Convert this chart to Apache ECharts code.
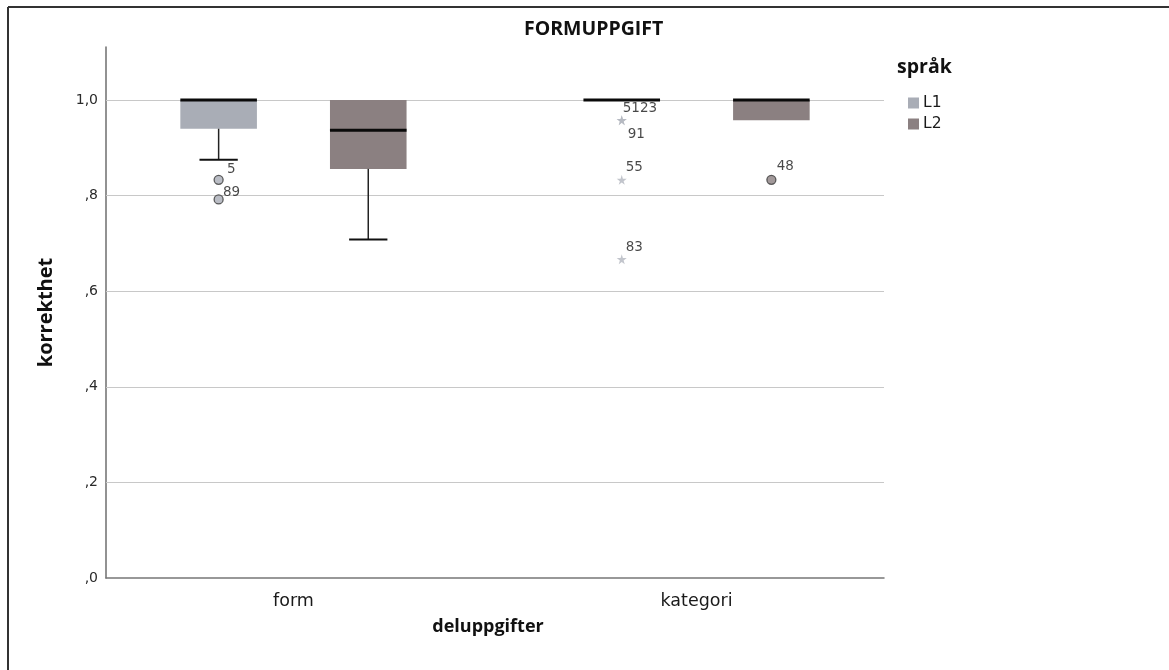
<!DOCTYPE html>
<html>
<head>
<meta charset="utf-8">
<script src="https://cdn.jsdelivr.net/npm/echarts@6/dist/echarts.min.js"></script>
<style>
html,body{margin:0;padding:0;background:#fff;}
#chart{width:1169px;height:670px;}
</style>
</head>
<body>
<div id="chart"></div>
<script>
// ---- data ----
const categories = ['form', 'kategori'];
const groups = ['L1', 'L2'];
// box stats per category: [lower whisker, Q1, median, Q3, upper whisker]
const boxL1 = [[0.875, 0.94, 1.0, 1.0, 1.0], [1.0, 1.0, 1.0, 1.0, 1.0]];
const boxL2 = [[0.708, 0.856, 0.937, 1.0, 1.0], [0.958, 0.958, 1.0, 1.0, 1.0]];
// outliers (circles): [categoryIndex, value, case label]
const outliersL1 = [[0, 0.833, '5'], [0, 0.792, '89']];
const outliersL2 = [[1, 0.833, '48']];
// extreme values (stars)
const extremesL1 = [[1, 0.958, '5123'], [1, 0.958, '91'], [1, 0.833, '55'], [1, 0.667, '83']];
const extremesL2 = [];
const yTicks = [0, 0.2, 0.4, 0.6, 0.8, 1.0];
const yTickLabels = [',0', ',2', ',4', ',6', ',8', '1,0'];

// ---- styles ----
const colors = {L1: '#a9adb6', L2: '#8b8081'};
const starColor = '#b3b7bf';
const groupOffset = {L1: -0.1856, L2: 0.1856};
const boxWidth = 0.19;
const labelDefault = [4, -12];
const labelOverride = {'5': [9, -10], '89': [5, -6], '91': [6, 14], '5123': [1, -12], '48': [6, -13]};
const STAR = 'path://M50,0 L61,35 L98,35 L68,57 L79,91 L50,70 L21,91 L32,57 L2,35 L39,35 Z';
const FONT = 'DejaVu Sans';
const BOLD = 'Open Sans';

function boxSeries(name, stats) {
  const color = colors[name];
  return {
    type: 'custom', name: name, z: 3,
    itemStyle: {color: color},
    encode: {x: 0, y: [1, 2, 3, 4, 5]},
    data: stats.map((d, i) => [i].concat(d)),
    renderItem: function (params, api) {
      const x = api.value(0) + groupOffset[name];
      const pMin = api.coord([x, api.value(1)]);
      const pQ1 = api.coord([x, api.value(2)]);
      const pMed = api.coord([x, api.value(3)]);
      const pQ3 = api.coord([x, api.value(4)]);
      const pMax = api.coord([x, api.value(5)]);
      const hw = api.size([boxWidth, 0])[0] / 2;
      const cx = pMed[0];
      const ch = [];
      if (pQ1[1] - pQ3[1] > 0.5) {
        ch.push({type: 'rect', shape: {x: cx - hw, y: pQ3[1], width: 2 * hw, height: pQ1[1] - pQ3[1]}, style: {fill: color}});
      }
      if (pMin[1] - pQ1[1] > 0.5) {
        ch.push({type: 'line', shape: {x1: cx, y1: pQ1[1], x2: cx, y2: pMin[1]}, style: {stroke: '#222', lineWidth: 1.5}});
        ch.push({type: 'line', shape: {x1: cx - hw / 2, y1: pMin[1], x2: cx + hw / 2, y2: pMin[1]}, style: {stroke: '#111', lineWidth: 2}});
      }
      if (pQ3[1] - pMax[1] > 0.5) {
        ch.push({type: 'line', shape: {x1: cx, y1: pQ3[1], x2: cx, y2: pMax[1]}, style: {stroke: '#222', lineWidth: 1.5}});
        ch.push({type: 'line', shape: {x1: cx - hw / 2, y1: pMax[1], x2: cx + hw / 2, y2: pMax[1]}, style: {stroke: '#111', lineWidth: 2}});
      }
      ch.push({type: 'line', shape: {x1: cx - hw, y1: pMed[1], x2: cx + hw, y2: pMed[1]}, style: {stroke: '#0a0a0a', lineWidth: 3}});
      return {type: 'group', children: ch};
    }
  };
}

function pointSeries(name, pts, isStar) {
  const size = isStar ? 10 : 9;
  return {
    type: 'scatter', name: name, z: 4,
    symbol: isStar ? STAR : 'circle',
    symbolSize: size,
    itemStyle: isStar ? {color: starColor} : {color: colors[name], borderColor: '#3a3a3a', borderWidth: 1.3},
    data: pts.map(p => {
      const off = labelOverride[p[2]] || labelDefault;
      return {
        value: [p[0] + groupOffset[name], p[1], p[2]],
        label: {position: [size / 2 + off[0], size / 2 + off[1]]}
      };
    }),
    label: {
      show: true, formatter: p => p.value[2], align: 'left', verticalAlign: 'middle',
      fontFamily: FONT, fontSize: 13.5, color: '#1a1a1a'
    }
  };
}

const chart = echarts.init(document.getElementById('chart'), null, {renderer: 'canvas'});
chart.setOption({
  animation: false,
  backgroundColor: '#fff',
  title: [
    {text: 'FORMUPPGIFT', left: 519, top: 14, textStyle: {fontFamily: BOLD, fontWeight: 'bold', fontSize: 19.5, color: '#111'}},
    {text: 'språk', left: 892, top: 52, textStyle: {fontFamily: BOLD, fontWeight: 'bold', fontSize: 19.5, color: '#111'}}
  ],
  legend: {
    orient: 'vertical', left: 903, top: 90, icon: 'rect', itemWidth: 11, itemHeight: 11, itemGap: 5,
    textStyle: {fontFamily: FONT, fontSize: 15.5, color: '#1a1a1a', padding: [0, 0, 0, -1]},
    data: groups.map(g => ({name: g, itemStyle: {color: colors[g]}}))
  },
  graphic: [
    {type: 'line', shape: {x1: 8, y1: 7, x2: 1169, y2: 7}, style: {stroke: '#333', lineWidth: 2}},
    {type: 'line', shape: {x1: 8, y1: 7, x2: 8, y2: 670}, style: {stroke: '#333', lineWidth: 2}}
  ],
  grid: {left: 106, right: 285, top: 47, bottom: 92},
  xAxis: {
    type: 'value', min: -0.465, max: 1.465,
    name: 'deluppgifter', nameLocation: 'middle', nameGap: 40,
    nameTextStyle: {fontFamily: BOLD, fontWeight: 'bold', fontSize: 18, color: '#111', padding: [0, 14, 0, 0]},
    axisLine: {show: true, onZero: false, lineStyle: {color: '#777', width: 1.5}},
    axisTick: {show: false},
    splitLine: {show: false},
    axisLabel: {
      customValues: categories.map((c, i) => i),
      formatter: v => (Math.abs(v - Math.round(v)) < 1e-6 && categories[Math.round(v)]) || '',
      fontFamily: FONT, fontSize: 17.5, color: '#1a1a1a', margin: 14
    }
  },
  yAxis: {
    type: 'value', min: 0, max: 1.111, interval: 0.2,
    name: 'korrekthet', nameLocation: 'middle', nameGap: 50,
    nameTextStyle: {fontFamily: BOLD, fontWeight: 'bold', fontSize: 20, color: '#111'},
    axisLine: {show: true, onZero: false, lineStyle: {color: '#6e6e6e', width: 1.5}},
    axisTick: {show: false},
    splitLine: {show: false},
    axisLabel: {
      showMaxLabel: false,
      formatter: v => {
        const i = yTicks.findIndex(t => Math.abs(t - v) < 1e-6);
        return i >= 0 ? yTickLabels[i] : '';
      },
      fontFamily: FONT, fontSize: 14, color: '#2a2a2a', margin: 8
    }
  },
  series: [
    {
      type: 'line', name: 'grid', data: [], z: 1, silent: true,
      markLine: {
        silent: true, symbol: 'none', label: {show: false}, z: 1,
        lineStyle: {color: '#c8c8c8', type: 'solid', width: 1},
        data: yTicks.filter(t => t > 0).map(t => ({yAxis: t}))
      }
    },
    boxSeries('L1', boxL1),
    boxSeries('L2', boxL2),
    pointSeries('L1', outliersL1, false),
    pointSeries('L1', extremesL1, true),
    pointSeries('L2', outliersL2, false),
    pointSeries('L2', extremesL2, true)
  ]
});
</script>
</body>
</html>
